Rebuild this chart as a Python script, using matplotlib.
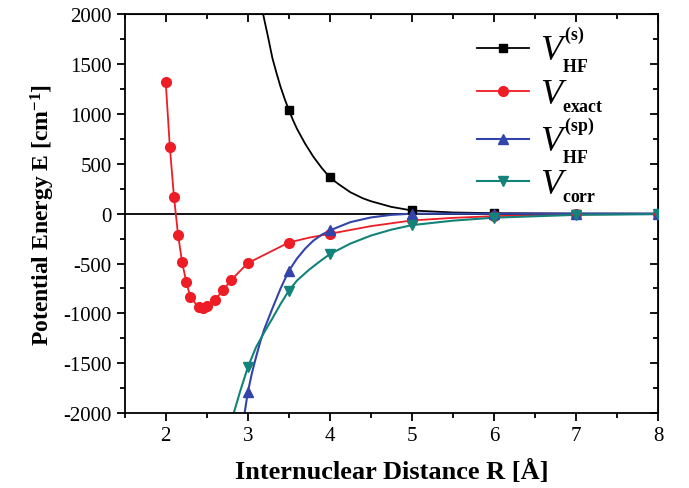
import numpy as np
import matplotlib
matplotlib.use('Agg')
from matplotlib import pyplot as plt
from matplotlib.ticker import MultipleLocator

plt.rcParams['font.family'] = ['Liberation Serif', 'DejaVu Serif']
plt.rcParams['mathtext.fontset'] = 'custom'
plt.rcParams['mathtext.rm'] = 'Liberation Serif'
plt.rcParams['mathtext.it'] = 'Liberation Serif:italic'
plt.rcParams['mathtext.bf'] = 'Liberation Serif:bold'
plt.rcParams['axes.unicode_minus'] = False

# markers
R_hf_s = [3.5, 4.0, 5.0, 6.0, 7.0, 8.0]
E_hf_s = [1040, 363, 32, 5, 1, 0]
R_exact = [2.0, 2.05, 2.1, 2.15, 2.2, 2.25, 2.3, 2.4, 2.45, 2.5, 2.6, 2.7, 2.8, 3.0, 3.5, 4.0, 5.0, 6.0, 7.0, 8.0]
E_exact = [1320, 668, 172, -210, -489, -683, -833, -940, -942, -930, -864, -766, -663, -496, -289, -202, -68, -25, -8, -2]
R_hf_sp = [3.0, 3.5, 4.0, 5.0, 6.0, 7.0, 8.0]
E_hf_sp = [-1792, -573, -168, 0, 0, 0, 0]
R_corr = [3.0, 3.5, 4.0, 5.0, 6.0, 7.0, 8.0]
E_corr = [-1541, -773, -406, -115, -40, -12, -5]

# smooth lines (samples)
Rl_hf_s = [3.15, 3.2, 3.25, 3.3, 3.35, 3.4, 3.45, 3.5, 3.55, 3.6, 3.7, 3.8, 3.9, 4.0, 4.1, 4.25, 4.4, 4.5, 4.75, 5.0, 5.5, 6.0, 7.0, 8.0]
El_hf_s = [2150, 1950, 1760, 1560, 1410, 1270, 1150, 1040, 940, 850, 700, 570, 460, 363, 300, 215, 155, 125, 68, 32, 12, 5, 1, 0]
Rl_exact = R_exact[:15] + [3.75, 4.0, 4.5, 5.0, 5.5, 6.0, 7.0, 8.0]
El_exact = E_exact[:15] + [-240, -202, -125, -68, -42, -25, -8, -2]
Rl_hf_sp = [2.95, 3.0, 3.05, 3.1, 3.15, 3.2, 3.3, 3.4, 3.5, 3.6, 3.7, 3.8, 3.9, 4.0, 4.25, 4.5, 4.75, 5.0, 6.0, 7.0, 8.0]
El_hf_sp = [-2060, -1792, -1600, -1440, -1290, -1160, -950, -750, -573, -450, -350, -270, -212, -168, -85, -38, -12, 0, 0, 0, 0]
Rl_corr = [2.8, 2.9, 3.0, 3.1, 3.2, 3.3, 3.4, 3.5, 3.6, 3.75, 3.9, 4.0, 4.25, 4.5, 4.75, 5.0, 5.5, 6.0, 7.0, 8.0]
El_corr = [-2080, -1800, -1541, -1340, -1190, -1050, -905, -773, -670, -560, -465, -406, -300, -220, -160, -115, -70, -40, -12, -5]

fig = plt.figure(figsize=(6.89, 4.89), dpi=100)
ax = fig.add_axes([0.181, 0.153, 0.774, 0.816])

ax.axhline(0, color='black', lw=1.3, zorder=1)

ax.plot(Rl_hf_s, El_hf_s, color='black', lw=1.3, zorder=2)
ax.plot(R_hf_s, E_hf_s, ls='none', marker='s', ms=6, color='black', zorder=3)
ax.plot([], [], color='black', lw=1.3, marker='s', ms=6,
        label=r'$\mathit{V}_{{}_{\mathbf{HF}}}^{{}^{\mathbf{(s)}}}$')

ax.plot(Rl_exact, El_exact, color='#ee1c24', lw=1.3, zorder=2)
ax.plot(R_exact, E_exact, ls='none', marker='o', ms=7, color='#ee1c24', zorder=3)
ax.plot([], [], color='#ee1c24', lw=1.3, marker='o', ms=7,
        label=r'$\mathit{V}_{{}_{\mathbf{exact}}}$')

ax.plot(Rl_hf_sp, El_hf_sp, color='#3344aa', lw=1.5, zorder=2)
ax.plot(R_hf_sp, E_hf_sp, ls='none', marker='^', ms=7, color='#3344aa', zorder=3)
ax.plot([], [], color='#3344aa', lw=1.5, marker='^', ms=7,
        label=r'$\mathit{V}_{{}_{\mathbf{HF}}}^{{}^{\mathbf{(sp)}}}$')

ax.plot(Rl_corr, El_corr, color='#13837a', lw=1.5, zorder=2)
ax.plot(R_corr, E_corr, ls='none', marker='v', ms=7, color='#13837a', zorder=3)
ax.plot([], [], color='#13837a', lw=1.5, marker='v', ms=7,
        label=r'$\mathit{V}_{{}_{\mathbf{corr}}}$')

ax.set_xlim(1.5, 8)
ax.set_ylim(-2000, 2000)
ax.xaxis.set_major_locator(MultipleLocator(1))
ax.xaxis.set_minor_locator(MultipleLocator(0.5))
ax.yaxis.set_major_locator(MultipleLocator(500))
ax.yaxis.set_minor_locator(MultipleLocator(250))
ax.tick_params(which='major', direction='out', length=6, width=1.3, labelsize=15)
ax.tick_params(which='minor', direction='out', length=3.5, width=1.3)
for s in ax.spines.values():
    s.set_linewidth(1.3)

top = ax.secondary_xaxis('top')
top.xaxis.set_major_locator(MultipleLocator(1))
top.xaxis.set_minor_locator(MultipleLocator(0.5))
top.tick_params(which='major', direction='in', length=6, width=1.3, labeltop=False)
top.tick_params(which='minor', direction='in', length=3.5, width=1.3)
right = ax.secondary_yaxis('right')
right.yaxis.set_major_locator(MultipleLocator(500))
right.yaxis.set_minor_locator(MultipleLocator(250))
right.tick_params(which='major', direction='in', length=6, width=1.3, labelright=False)
right.tick_params(which='minor', direction='in', length=3.5, width=1.3)

ax.set_xlabel('Internuclear Distance R [Å]', fontsize=19, fontweight='bold', labelpad=10)
ax.set_ylabel(r'Potential Energy E [cm$^{\mathbf{-1}}$]', fontsize=17, fontweight='bold', labelpad=4)

ax.legend(loc='upper right', frameon=False, fontsize=26, handlelength=1.45,
          handletextpad=0.3, labelspacing=0.05, borderaxespad=0.0,
          bbox_to_anchor=(0.925, 1.008))

fig.savefig('out.png', dpi=100)
